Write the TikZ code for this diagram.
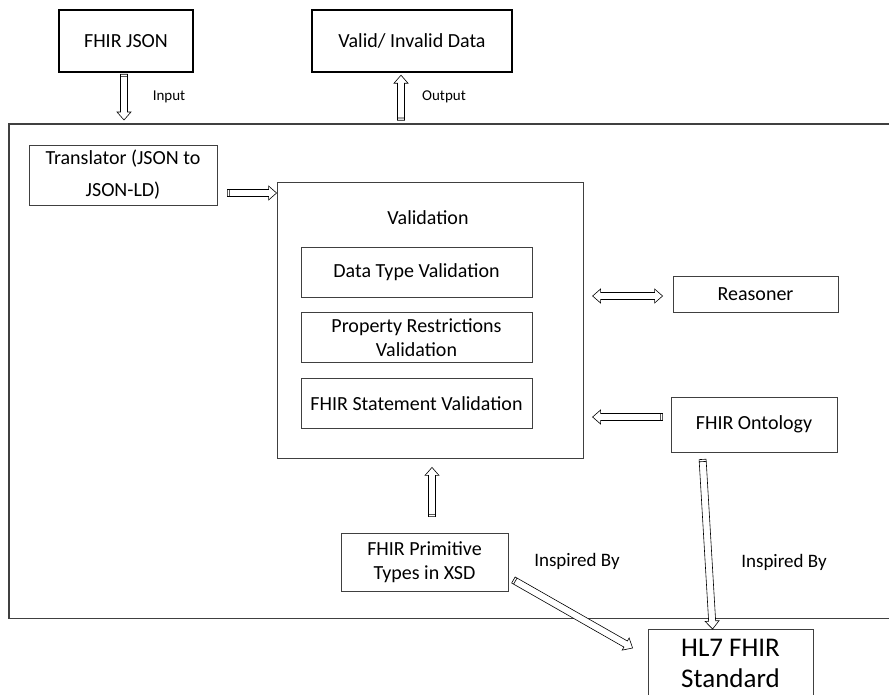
\documentclass[tikz,border=0pt]{standalone}
\usepackage{fontspec}
\setmainfont{Carlito}
\usetikzlibrary{arrows.meta,positioning,calc}
\definecolor{boxgray}{HTML}{404040}

\begin{document}
\begin{tikzpicture}[
    x=1pt, y=-1pt,
    node distance=15pt,
    font=\fontsize{20}{24}\selectfont,
    thickbox/.style={rectangle, draw=black, line width=2.4pt, minimum width=#1, minimum height=62pt, align=center},
    plainbox/.style={rectangle, draw=boxgray, line width=0.8pt, align=center},
    subbox/.style={plainbox, minimum width=231pt, minimum height=50pt},
    inoutlabel/.style={font=\fontsize{15}{18}\selectfont},
    insplabel/.style={font=\fontsize{19}{22}\selectfont},
    % hollow block arrow from start to target, dark band at its tail
    blockarrow/.style={draw=black, fill=white, line width=0.6pt, line join=miter, to path={
      let \p1=(\tikztostart), \p2=(\tikztotarget), \p3=($(\p2)!8pt!(\p1)$), \p4=($(\p1)!2.2pt!(\p2)$) in
      ($(\p1)!3.5pt!90:(\p2)$) -- ($(\p3)!3.5pt!-90:(\p1)$) -- ($(\p3)!7pt!-90:(\p1)$) -- (\p2)
      -- ($(\p3)!7pt!90:(\p1)$) -- ($(\p3)!3.5pt!90:(\p1)$) -- ($(\p1)!3.5pt!-90:(\p2)$) -- cycle
      ($(\p4)!3.5pt!90:(\p2)$) -- ($(\p4)!3.5pt!-90:(\p2)$)}},
    dblockarrow/.style={draw=black, fill=white, line width=0.6pt, line join=miter, to path={
      let \p1=(\tikztostart), \p2=(\tikztotarget), \p3=($(\p2)!8pt!(\p1)$), \p4=($(\p1)!8pt!(\p2)$) in
      (\p1) -- ($(\p4)!7pt!90:(\p2)$) -- ($(\p4)!3.5pt!90:(\p2)$) -- ($(\p3)!3.5pt!-90:(\p1)$)
      -- ($(\p3)!7pt!-90:(\p1)$) -- (\p2) -- ($(\p3)!7pt!90:(\p1)$) -- ($(\p3)!3.5pt!90:(\p1)$)
      -- ($(\p4)!3.5pt!-90:(\p2)$) -- ($(\p4)!7pt!-90:(\p2)$) -- cycle}}
]
  \useasboundingbox (0,0) rectangle (889,694);

  % outer system box (its right side lies outside the picture)
  \node[minimum width=880pt, minimum height=494pt, anchor=north west] (system) at (9,124) {};
  \draw[black!75, line width=1.2pt] (system.north east) -- (system.north west) -- (system.south west) -- (system.south east);

  % inputs and outputs
  \node[thickbox=134pt] (fhirjson) at (126,41) {FHIR JSON};
  \node[thickbox=200pt] (validout) at (412,41) {Valid/ Invalid Data};

  % inside the system
  \node[plainbox, minimum width=188pt, minimum height=60pt] (translator) at (123,175) {Translator (JSON to\\[8pt]JSON-LD)};
  \node[plainbox, minimum width=306pt, minimum height=276pt] (validation) at (430,320) {};
  \node (vallabel) at (428,218) {Validation};
  \node[subbox] (datatype) at (416.5,272) {Data Type Validation};
  \node[subbox, below=of datatype] (property) {Property Restrictions\\Validation};
  \node[subbox, below=of property] (statement) {FHIR Statement Validation};
  \node[plainbox, minimum width=165pt, minimum height=36pt] (reasoner) at (755.5,294) {Reasoner};
  \node[plainbox, minimum width=166pt, minimum height=55pt] (ontology) at (754,424.5) {FHIR Ontology};
  \node[plainbox, minimum width=167pt, minimum height=58pt] (primitive) at (424.5,562) {FHIR Primitive\\Types in XSD};

  % standard below the system
  \node[plainbox, minimum width=165pt, anchor=north, inner ysep=9.5pt, font=\fontsize{27}{31}\selectfont, text depth=30pt] (hlseven) at (730.5,629) {HL7 FHIR\\Standard};

  % connectors
  \draw[blockarrow] ($(fhirjson.south)+(-2,1)$) to ($(fhirjson.south |- system.north)+(-2,-4)$);
  \draw[blockarrow] ($(validout.south -| 401,0)+(0,47)$) to ($(validout.south -| 401,0)+(0,2)$);
  \path ($(translator.east)+(10,18)$) coordinate (trtail);
  \draw[blockarrow] (trtail) to (trtail -| validation.west);
  \draw[dblockarrow] ($(reasoner.west)+(-80,2)$) to ($(reasoner.west)+(-10,2)$);
  \draw[blockarrow] ($(ontology.west)+(-8,-7.5)$) to ($(ontology.west)+(-78,-7.5)$);
  \draw[blockarrow] ($(primitive.north)+(7.5,-16)$) to ($(validation.south)+(2,9)$);
  \draw[blockarrow] ($(primitive.east)+(5,18)$) to ($(hlseven.north west)+(-15,19)$);
  \draw[blockarrow] ($(ontology.south west)+(32,7)$) to ($(hlseven.north west)+(65,0)$);

  % labels
  \node[inoutlabel] (inlabel) at (169,97) {Input};
  \node[inoutlabel] (outlabel) at (444,97) {Output};
  \node[insplabel] (insplabelA) at (577,561) {Inspired By};
  \node[insplabel] (insplabelB) at (784,562) {Inspired By};
\end{tikzpicture}
\end{document}
